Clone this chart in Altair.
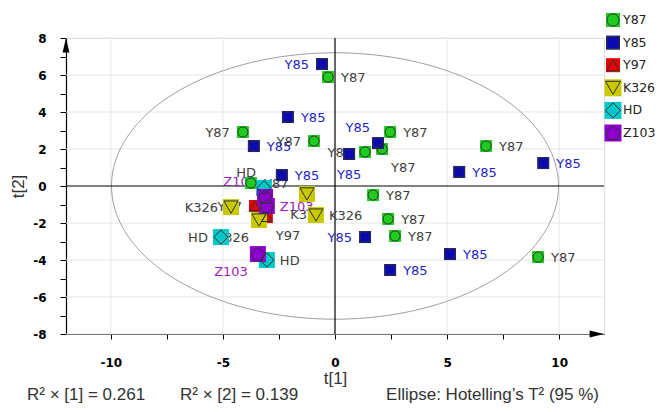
import altair as alt
import pandas as pd
import numpy as np

# ---------------- data ----------------
groups = ["Y87", "Y85", "Y97", "K326", "HD", "Z103"]

y87_t1 = [-0.31, -4.11, -0.94, 1.34, 2.10, 2.46, 6.74, 1.70, 2.37, 2.68, 9.06, -3.75]
y87_t2 = [5.89, 2.92, 2.43, 1.84, 2.00, 2.92, 2.16, -0.49, -1.78, -2.70, -3.84, 0.16]
y87_side = ["r", "l", "l", "l", "dr", "r", "r", "r", "r", "r", "r", "r"]

y85_t1 = [-0.58, -2.10, -3.62, -2.37, 0.63, 1.92, 5.54, 9.29, 1.34, 2.46, 5.13]
y85_t2 = [6.59, 3.73, 2.16, 0.59, 1.73, 2.32, 0.76, 1.24, -2.76, -4.54, -3.68]
y85_side = ["l", "r", "r", "r", "d", "ul", "r", "r", "l", "r", "r"]

y97_t1 = [-3.57, -3.04]
y97_t2 = [-1.08, -1.68]
y97_side = ["l", "dr"]

k326_t1 = [-4.64, -1.25, -0.85, -3.39]
k326_t2 = [-1.14, -0.43, -1.57, -1.84]
k326_side = ["l", "d", "r", "dl"]

hd_t1 = [-3.17, -5.09, -3.04]
hd_t2 = [-0.10, -2.76, -4.00]
hd_side = ["ul", "l", "r"]

z103_t1 = [-3.12, -3.04, -3.44]
z103_t2 = [-0.59, -1.08, -3.68]
z103_side = ["ul", "r", "dl"]

x_ticks = [-10, -7.5, -5, -2.5, 0, 2.5, 5, 7.5, 10]
y_ticks = [-8, -7, -6, -5, -4, -3, -2, -1, 0, 1, 2, 3, 4, 5, 6, 7, 8]
x_grid = [-10, -5, 5, 10]
y_grid = [-8, -6, -4, -2, 2, 4, 6, 8]

ellipse_a = 9.97   # Hotelling T2 semi-axis along t[1]
ellipse_b = 7.2    # along t[2]

footer_texts = ["R\u00b2 \u00d7 [1] = 0.261", "R\u00b2 \u00d7 [2] = 0.139",
                "Ellipse: Hotelling\u2019s T\u00b2 (95 %)"]

# ---------------- styles ----------------
fill_colors = ["#1ecb1e", "#0a0ab0", "#e40000", "#c9c900", "#00c8c8", "#8e00d0"]
label_colors = ["#404040", "#2424bf", "#404040", "#404040", "#404040", "#9a22b6"]
PENT = "M0,-0.905L0.951,-0.214L0.588,0.904L-0.588,0.904L-0.951,-0.214Z"
shapes = ["circle", "square", "triangle-up", "triangle-down", "diamond", PENT]

rows = []
for g, xs_, ys_, ss in [("Y87", y87_t1, y87_t2, y87_side), ("Y85", y85_t1, y85_t2, y85_side),
                        ("Y97", y97_t1, y97_t2, y97_side), ("K326", k326_t1, k326_t2, k326_side),
                        ("HD", hd_t1, hd_t2, hd_side), ("Z103", z103_t1, z103_t2, z103_side)]:
    for a, b, s in zip(xs_, ys_, ss):
        rows.append({"group": g, "t1": a, "t2": b, "side": s})
df = pd.DataFrame(rows)

theta = np.linspace(0, 2 * np.pi, 181)
ell = pd.DataFrame({"i": np.arange(len(theta)),
                    "t1": ellipse_a * np.cos(theta),
                    "t2": ellipse_b * np.sin(theta)})

xs = alt.Scale(domain=[-12, 12], nice=False, zero=False)
ys = alt.Scale(domain=[-8, 8], nice=False, zero=False)

fill_scale = alt.Scale(domain=groups, range=fill_colors)
shape_scale = alt.Scale(domain=groups, range=shapes)
label_scale = alt.Scale(domain=groups, range=label_colors)

big = "indexof(['K326','HD','Z103'], datum.group) >= 0"

sign_expr = "(datum.value < 0 ? '-' : '') + abs(datum.value)"

x_axis = alt.Axis(values=x_ticks, tickCount=30,
                  labelExpr=f"datum.value % 5 === 0 ? {sign_expr} : ''",
                  tickSize=5, tickColor="black", domainColor="black", domainWidth=1.2,
                  labelFont="DejaVu Sans", labelFontWeight="bold", labelFontSize=12,
                  labelColor="black", labelPadding=18, labelFlush=False, labelOverlap=False,
                  title="t[1]", titleFont="Liberation Sans", titleFontSize=17,
                  titleFontWeight="normal", titleColor="#333", titlePadding=2, grid=False)
y_axis = alt.Axis(values=y_ticks, tickCount=30,
                  labelExpr=f"datum.value % 2 === 0 ? {sign_expr} : ''",
                  tickSize=6, tickColor="black", domainColor="black", domainWidth=1.2,
                  labelFont="DejaVu Sans", labelFontWeight="bold", labelFontSize=12,
                  labelColor="black", labelPadding=14, labelFlush=False, labelOverlap=False,
                  title="t[2]", titleFont="Liberation Sans", titleFontSize=17,
                  titleFontWeight="normal", titleColor="#333", titlePadding=5, grid=False)

base = alt.Chart(df)

xgrid = alt.Chart(pd.DataFrame({"v": x_grid})).mark_rule(color="#e6e6e6", strokeWidth=1).encode(
    x=alt.X("v:Q", scale=xs, axis=x_axis))
ygrid = alt.Chart(pd.DataFrame({"v": y_grid})).mark_rule(color="#e6e6e6", strokeWidth=1).encode(
    y=alt.Y("v:Q", scale=ys, axis=y_axis))
zero_v = alt.Chart(pd.DataFrame({"v": [0]})).mark_rule(color="black", strokeWidth=1.2).encode(
    x=alt.X("v:Q", scale=xs))
zero_h = alt.Chart(pd.DataFrame({"v": [0]})).mark_rule(color="black", strokeWidth=1.2).encode(
    y=alt.Y("v:Q", scale=ys))

ellipse = alt.Chart(ell).mark_line(color="#a0a0a0", strokeWidth=1).encode(
    x=alt.X("t1:Q", scale=xs), y=alt.Y("t2:Q", scale=ys), order="i:Q")

arrow_y = alt.Chart(pd.DataFrame({"a": [0]})).mark_point(
    shape="M0,0L-0.85,3.6L0.85,3.6Z", size=64, filled=True, color="black", opacity=1).encode(
    x=alt.datum(-12, scale=xs), y=alt.datum(8, scale=ys))
arrow_x = alt.Chart(pd.DataFrame({"a": [0]})).mark_point(
    shape="M0,0L-3.6,-0.85L-3.6,0.85Z", size=64, filled=True, color="black", opacity=1).encode(
    x=alt.datum(12, scale=xs), y=alt.datum(-8, scale=ys))

side_styles = {
    "r": dict(align="left", dx=13, dy=1),
    "l": dict(align="right", dx=-13, dy=1),
    "d": dict(align="center", dx=0, dy=21),
    "ul": dict(align="right", dx=-8, dy=-15),
    "dl": dict(align="right", dx=-10, dy=18),
    "dr": dict(align="left", dx=9, dy=19),
}
label_layers = []
for side, st in side_styles.items():
    label_layers.append(
        base.transform_filter(alt.datum.side == side).mark_text(
            font="DejaVu Sans", fontSize=13, baseline="middle", **st).encode(
            x=alt.X("t1:Q", scale=xs), y=alt.Y("t2:Q", scale=ys), text="group:N",
            color=alt.Color("group:N", scale=label_scale, legend=None)))

squares = base.mark_square(opacity=1).encode(
    x=alt.X("t1:Q", scale=xs), y=alt.Y("t2:Q", scale=ys),
    fill=alt.Fill("group:N", scale=fill_scale, legend=None),
    size=alt.condition(big, alt.value(256), alt.value(144)))
outlines = base.mark_point(filled=False, color="#333333", strokeWidth=1, opacity=1).encode(
    x=alt.X("t1:Q", scale=xs), y=alt.Y("t2:Q", scale=ys),
    shape=alt.Shape("group:N", scale=shape_scale, legend=None),
    size=alt.condition(big, alt.value(200), alt.value(105)))

footers = []
for txt, xv, al in zip(footer_texts, [-39, 114, 533], ["left", "left", "right"]):
    footers.append(alt.Chart(pd.DataFrame({"t": [txt]})).mark_text(
        font="Liberation Sans", fontSize=17, color="#333", align=al, baseline="middle").encode(
        x=alt.value(xv), y=alt.value(357), text="t:N"))

main = alt.layer(xgrid, ygrid, ellipse, zero_v, zero_h, arrow_y, arrow_x,
                 *label_layers, squares, outlines, *footers)

# ---------------- legend ----------------
leg = alt.Chart(pd.DataFrame({"group": groups}))
ly = alt.Y("group:N", sort=groups,
           scale=alt.Scale(type="point", domain=groups, range=[-18, 95], padding=0), axis=None)
leg_sq = leg.mark_square(opacity=1).encode(
    x=alt.value(547), y=ly, fill=alt.Fill("group:N", scale=fill_scale, legend=None),
    size=alt.condition(big, alt.value(289), alt.value(196)))
leg_ol = leg.mark_point(filled=False, color="#333333", strokeWidth=1, opacity=1).encode(
    x=alt.value(547), y=ly, shape=alt.Shape("group:N", scale=shape_scale, legend=None),
    size=alt.condition(big, alt.value(225), alt.value(150)))
leg_tx = leg.mark_text(font="DejaVu Sans", fontSize=12.5, color="#222", align="left",
                       baseline="middle").encode(x=alt.value(557), y=ly, text="group:N")
legend = alt.layer(leg_sq, leg_ol, leg_tx)

chart = alt.layer(main, legend).resolve_scale(y="independent").properties(
    width=538, height=296, autosize="none",
    padding={"left": 58, "top": 30, "right": 51, "bottom": 70}
).configure_view(stroke=None).configure(background="white")

chart.save("out.html", embed_options={"renderer": "svg", "actions": False})
